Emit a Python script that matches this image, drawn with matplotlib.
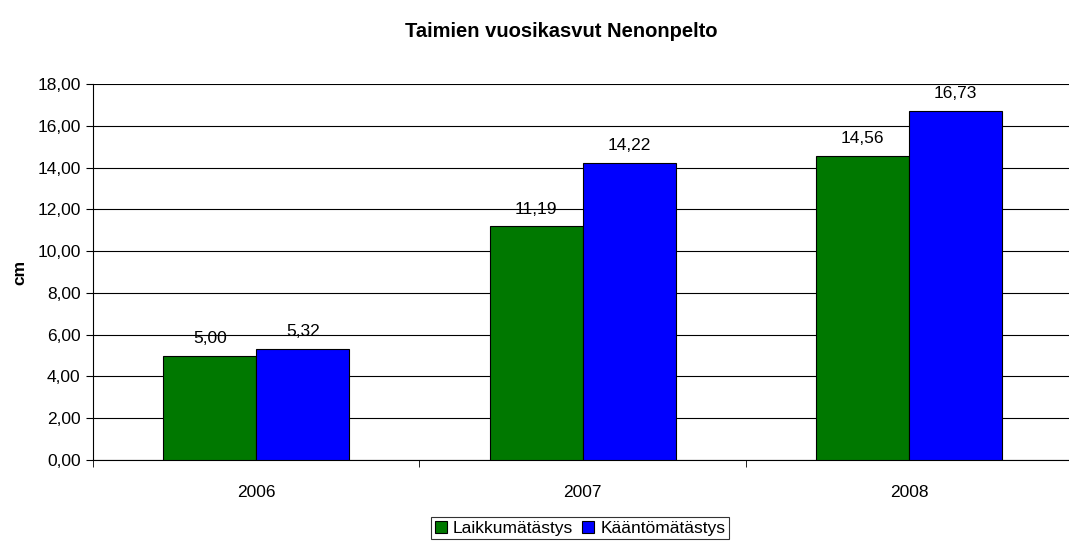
import matplotlib.pyplot as plt
import numpy as np

plt.rcParams['font.family'] = ['Liberation Sans', 'DejaVu Sans']

years = ['2006', '2007', '2008']
laikku = [5.00, 11.19, 14.56]
kaanto = [5.32, 14.22, 16.73]
series_names = ['Laikkumätästys', 'Kääntömätästys']
colors = ['#007800', '#0000FF']

fs = 12.5

fig = plt.figure(figsize=(10.69, 5.44), dpi=100)
ax = fig.add_axes([0.087, 0.1544, 0.916, 0.6912])

x = np.arange(len(years))
w = 0.285
for vals, off, c, name in [(laikku, -w / 2, colors[0], series_names[0]),
                           (kaanto, w / 2, colors[1], series_names[1])]:
    bars = ax.bar(x + off, vals, w, color=c, edgecolor='black', linewidth=0.8,
                  label=name, zorder=3)
    for b, v in zip(bars, vals):
        ax.annotate(f'{v:.2f}'.replace('.', ','), (b.get_x() + b.get_width() / 2, v),
                    xytext=(0, 7), textcoords='offset points',
                    ha='center', va='bottom', fontsize=fs)

ax.set_xlim(-0.5, 2.5)
ax.set_ylim(0, 18)
ax.set_yticks(np.arange(0, 19, 2))
ax.set_yticklabels([f'{v:.2f}'.replace('.', ',') for v in np.arange(0, 19, 2)], fontsize=fs)
ax.set_xticks(x)
ax.set_xticklabels(years, fontsize=fs)
ax.tick_params(axis='x', length=0, pad=18)
ax.set_xticks([-0.5, 0.5, 1.5, 2.5], minor=True)
ax.tick_params(axis='x', which='minor', length=5)
ax.tick_params(axis='y', length=5, pad=4)
ax.grid(axis='y', color='black', linewidth=0.8, zorder=0)
ax.spines['top'].set_visible(False)
ax.spines['right'].set_visible(False)
ax.set_ylabel('cm', fontsize=fs, fontweight='bold', labelpad=7)

fig.suptitle('Taimien vuosikasvut Nenonpelto', fontsize=14.5, fontweight='bold',
             x=0.525, y=0.96)

leg = fig.legend(loc='center', bbox_to_anchor=(0.5426, 0.029), ncol=2, fontsize=fs,
                 frameon=True, fancybox=False, edgecolor='black', handlelength=0.7,
                 handleheight=0.7, handletextpad=0.35, columnspacing=0.5,
                 borderpad=0.2)
leg.get_frame().set_linewidth(0.8)

fig.savefig('out.png', dpi=100)
